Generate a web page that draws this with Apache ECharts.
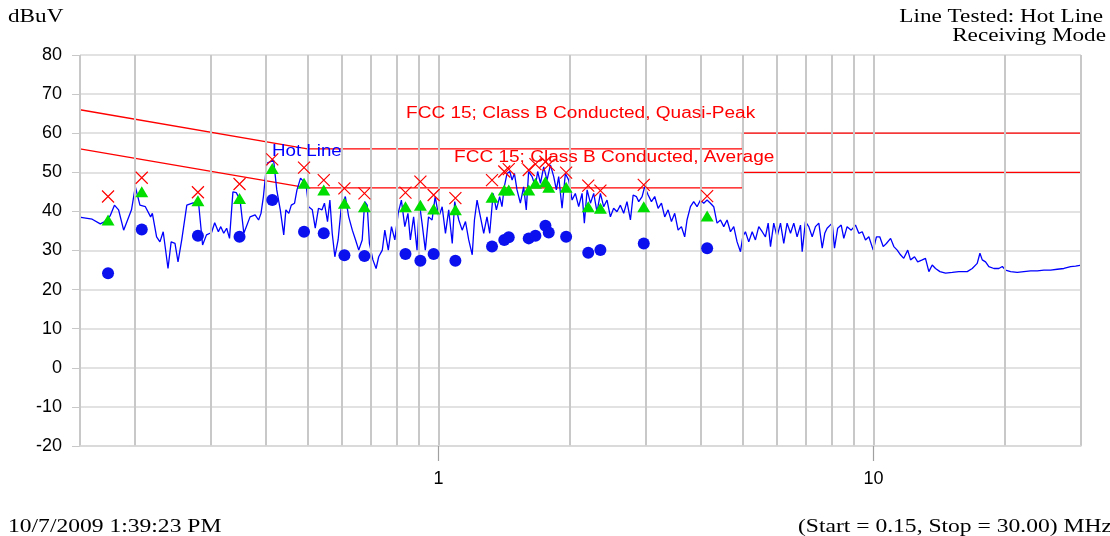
<!DOCTYPE html>
<html>
<head>
<meta charset="utf-8">
<script src="https://cdn.jsdelivr.net/npm/echarts@6/dist/echarts.min.js"></script>
<style>
  body { margin: 0; background: #fff; }
  #main { width: 1110px; height: 536px; }
</style>
</head>
<body>
<div id="main"></div>
<script>
// frequency grid (MHz) for vertical lines
const gridFreqs = [0.15, 0.2, 0.3, 0.4, 0.5, 0.6, 0.7, 0.8, 0.9, 1, 2, 3, 4, 5, 6, 7, 8, 9, 10, 20, 30]
const xLabelValues = [1, 10]

// FCC 15 class B limits
const qpLimitMHz = [0.15, 0.5, 5, 5, 30]
const qpLimit = [66, 56, 56, 60, 60]
const avgLimitMHz = [0.15, 0.5, 5, 5, 30]
const avgLimit = [56, 46, 46, 50, 50]

// measured points
const markFreq = [0.174, 0.208, 0.280, 0.349, 0.415, 0.491, 0.545, 0.608, 0.676, 0.840, 0.909, 0.975, 1.094,
  1.328, 1.417, 1.451, 1.613, 1.671, 1.762, 1.793, 1.966, 2.21, 2.357, 2.965, 4.147]
const qpValues = [43.8, 48.6, 44.9, 47.0, 53.3, 51.2, 48.0, 45.9, 44.6, 44.8, 47.6, 44.2, 43.4,
  48.0, 50.2, 50.8, 50.6, 52.1, 52.7, 51.9, 49.9, 46.6, 45.3, 46.8, 43.9]
const avgValues = [37.8, 45.0, 42.7, 43.3, 51.0, 47.2, 45.5, 42.1, 41.2, 41.2, 41.6, 40.6, 40.4,
  43.6, 45.5, 45.5, 45.5, 47.2, 47.6, 46.2, 46.2, 41.2, 40.8, 41.2, 38.8]
const dotValues = [24.2, 35.4, 33.8, 33.5, 42.9, 34.8, 34.4, 28.8, 28.6, 29.1, 27.4, 29.1, 27.4,
  31.0, 32.7, 33.4, 33.1, 33.8, 36.3, 34.6, 33.5, 29.4, 30.1, 31.8, 30.6]

// peak scan trace
const traceMHz = [0.150, 0.152, 0.160, 0.167, 0.171, 0.176, 0.180, 0.184, 0.189, 0.197, 0.201, 0.206, 0.212,
  0.218, 0.220, 0.225, 0.229, 0.233, 0.239, 0.243, 0.248, 0.252, 0.257, 0.264, 0.273, 0.281, 0.287, 0.293,
  0.301, 0.306, 0.312, 0.316, 0.321, 0.326, 0.331, 0.337, 0.343, 0.350, 0.357, 0.369, 0.379, 0.386, 0.391,
  0.396, 0.403, 0.407, 0.418, 0.425, 0.433, 0.441, 0.446, 0.453, 0.459, 0.467, 0.473, 0.482, 0.490, 0.497,
  0.503, 0.513, 0.521, 0.530, 0.540, 0.547, 0.556, 0.563, 0.570, 0.578, 0.588, 0.598, 0.611, 0.622, 0.634,
  0.645, 0.656, 0.668, 0.677, 0.686, 0.694, 0.707, 0.719, 0.729, 0.743, 0.753, 0.767, 0.780, 0.794, 0.808,
  0.822, 0.837, 0.851, 0.862, 0.877, 0.893, 0.904, 0.917, 0.933, 0.949, 0.967, 0.983, 1.002, 1.020, 1.038,
  1.056, 1.076, 1.090, 1.114, 1.134, 1.154, 1.174, 1.196, 1.210, 1.227, 1.249, 1.271, 1.293, 1.312, 1.336,
  1.359, 1.383, 1.400, 1.417, 1.438, 1.459, 1.477, 1.495, 1.516, 1.543, 1.570, 1.592, 1.612, 1.642, 1.670,
  1.691, 1.716, 1.746, 1.777, 1.809, 1.841, 1.867, 1.890, 1.924, 1.958, 1.993, 2.029, 2.064, 2.101, 2.139,
  2.165, 2.197, 2.236, 2.275, 2.315, 2.357, 2.398, 2.441, 2.485, 2.528, 2.573, 2.620, 2.666, 2.713, 2.763,
  2.803, 2.851, 2.887, 2.939, 2.979, 3.035, 3.088, 3.142, 3.199, 3.256, 3.313, 3.373, 3.433, 3.493, 3.556,
  3.619, 3.682, 3.728, 3.796, 3.862, 3.931, 4.003, 4.073, 4.145, 4.220, 4.294, 4.370, 4.450, 4.528, 4.608,
  4.692, 4.774, 4.859, 4.947, 5.007, 5.078, 5.169, 5.263, 5.354, 5.450, 5.550, 5.646, 5.728, 5.799, 5.900,
  6.005, 6.114, 6.221, 6.331, 6.447, 6.560, 6.676, 6.797, 6.858, 6.977, 7.102, 7.231, 7.357, 7.489, 7.625,
  7.729, 7.825, 8.040, 8.137, 8.276, 8.432, 8.548, 8.699, 8.891, 9.093, 9.256, 9.424, 9.588, 9.759, 9.989,
  10.16, 10.34, 10.53, 10.71, 10.95, 11.14, 11.34, 11.54, 11.74, 11.99, 12.17, 12.43, 12.64, 12.95, 13.17,
  13.41, 13.65, 13.89, 14.22, 14.65, 15.18, 15.72, 16.43, 16.87, 17.32, 17.57, 17.79, 18.10, 18.42, 18.92,
  19.42, 19.78, 20.12, 20.67, 21.41, 22.17, 22.98, 23.81, 24.65, 25.54, 26.46, 27.40, 28.40, 29.15, 29.83, 30.0]
const traceDbuv = [38.5, 38.4, 38.0, 36.8, 37.4, 38.9, 41.6, 40.4, 35.2, 40.4, 46.3, 41.6, 41.2,
  38.6, 39.5, 33.5, 32.2, 34.8, 25.4, 32.2, 31.8, 27.1, 32.7, 41.6, 42.2, 42.1, 31.4, 34.0,
  34.6, 37.1, 34.8, 36.1, 34.4, 35.7, 33.1, 45.0, 44.8, 42.9, 34.4, 38.6, 39.1, 37.8, 39.5,
  43.8, 52.3, 52.7, 53.1, 45.5, 40.4, 34.0, 40.4, 39.5, 41.6, 42.1, 45.5, 48.5, 47.6, 46.3,
  41.2, 40.4, 35.7, 40.8, 40.4, 42.1, 37.4, 42.9, 34.4, 28.4, 32.7, 41.2, 43.8, 38.6, 35.2,
  32.7, 30.1, 32.7, 42.5, 41.6, 31.8, 27.6, 25.4, 28.4, 30.1, 35.2, 30.1, 36.1, 32.7, 39.5,
  42.9, 36.1, 39.5, 32.7, 38.6, 30.1, 42.1, 37.0, 30.1, 38.6, 37.8, 43.8, 38.6, 41.2, 34.4,
  40.4, 31.8, 42.5, 37.8, 35.2, 37.4, 32.7, 28.9, 37.8, 42.9, 38.6, 34.4, 38.6, 34.4, 44.6,
  40.4, 43.8, 41.2, 46.3, 49.7, 50.2, 48.0, 49.7, 45.5, 42.1, 46.3, 40.4, 50.2, 48.9, 46.3,
  50.2, 47.2, 51.4, 48.0, 51.9, 48.9, 45.5, 48.9, 40.8, 49.7, 48.0, 42.9, 44.6, 41.2, 44.6,
  37.0, 45.5, 42.1, 44.6, 39.9, 44.6, 41.2, 42.9, 38.6, 40.8, 39.9, 41.6, 39.5, 42.5, 37.8,
  44.2, 43.8, 42.5, 43.8, 46.3, 44.2, 42.5, 43.8, 40.8, 42.1, 38.6, 40.4, 37.4, 39.5, 35.2,
  36.1, 33.5, 37.8, 41.2, 42.5, 41.2, 42.9, 42.1, 42.9, 42.1, 41.2, 37.0, 37.8, 36.1, 37.8,
  34.8, 36.1, 32.2, 29.7, 33.5, 34.8, 32.2, 34.8, 32.7, 36.1, 34.8, 33.5, 37.0, 31.0, 37.0,
  33.5, 37.0, 31.8, 37.0, 34.4, 37.0, 33.5, 36.5, 29.7, 37.4, 36.1, 33.5, 36.1, 37.0, 30.6,
  34.4, 35.7, 37.0, 30.6, 35.7, 36.5, 33.1, 36.1, 35.2, 36.5, 34.4, 34.8, 32.7, 33.5, 30.1,
  33.5, 33.5, 31.0, 31.8, 33.1, 31.0, 30.1, 28.9, 28.0, 30.1, 27.6, 28.4, 27.1, 27.6, 28.0,
  24.6, 26.3, 25.4, 24.6, 24.2, 24.4, 24.6, 24.6, 25.4, 26.7, 29.3, 27.6, 27.1, 25.9, 25.4,
  25.4, 25.9, 25.0, 24.6, 24.4, 24.6, 24.8, 24.8, 25.0, 25.0, 25.2, 25.4, 25.9, 26.0, 26.2, 26.2]

const zip = (xs, ys) => xs.map((x, i) => [x, ys[i]])

const serif = '19px "Liberation Serif", "Times New Roman", serif'
const sans = '16px "Liberation Sans", Arial, sans-serif'

const chart = echarts.init(document.getElementById('main'))
chart.setOption({
  animation: false,
  grid: { left: 80, right: 29, top: 55, bottom: 90 },
  xAxis: {
    type: 'log',
    logBase: 10,
    min: 0.15,
    max: 30,
    z: 8,
    axisLine: { show: true, onZero: false, lineStyle: { color: '#d8d8d8', width: 1.5 } },
    splitLine: { show: false },
    axisTick: {
      show: true,
      inside: false,
      customValues: xLabelValues,
      length: 15,
      lineStyle: { color: '#a0a0a0', width: 1.2 },
    },
    axisLabel: {
      customValues: xLabelValues,
      margin: 24,
      color: '#000',
      fontSize: 18,
      fontFamily: 'Liberation Sans, Arial, sans-serif',
    },
  },
  yAxis: {
    type: 'value',
    min: -20,
    max: 80,
    interval: 10,
    axisLine: { show: false },
    axisTick: { show: true, length: 8, lineStyle: { color: '#c8c8c8' } },
    splitLine: { lineStyle: { color: '#d8d8d8', width: 1.5 } },
    axisLabel: { color: '#000', fontSize: 18, margin: 18, fontFamily: 'Liberation Sans, Arial, sans-serif' },
  },
  graphic: [
    { type: 'text', x: 8, y: 27, scaleX: 1.22, style: { text: 'dBuV', font: serif, fill: '#000', textVerticalAlign: 'bottom' } },
    { type: 'text', x: 1103, y: 27, scaleX: 1.22, style: { text: 'Line Tested: Hot Line', font: serif, fill: '#000', textAlign: 'right', textVerticalAlign: 'bottom' } },
    { type: 'text', x: 1106, y: 46, scaleX: 1.22, style: { text: 'Receiving Mode', font: serif, fill: '#000', textAlign: 'right', textVerticalAlign: 'bottom' } },
    { type: 'text', x: 8, y: 537, scaleX: 1.24, style: { text: '10/7/2009 1:39:23 PM', font: serif, fill: '#000', textVerticalAlign: 'bottom' } },
    { type: 'text', x: 798, y: 537, scaleX: 1.24, style: { text: '(Start = 0.15, Stop = 30.00) MHz', font: serif, fill: '#000', textVerticalAlign: 'bottom' } },
    { type: 'text', x: 406, y: 114, scaleX: 1.19, z: 10, style: { text: 'FCC 15; Class B Conducted, Quasi-Peak', font: sans, fill: '#ff0000', textVerticalAlign: 'middle' } },
    { type: 'text', x: 454, y: 158, scaleX: 1.19, z: 10, style: { text: 'FCC 15; Class B Conducted, Average', font: sans, fill: '#ff0000', textVerticalAlign: 'middle' } },
    { type: 'text', x: 272, y: 152, scaleX: 1.17, z: 10, style: { text: 'Hot Line', font: sans, fill: '#0000ff', textVerticalAlign: 'middle' } },
  ],
  series: [
    {
      name: 'grid',
      type: 'line',
      data: [],
      z: 1,
      markLine: {
        silent: true,
        symbol: ['none', 'none'],
        label: { show: false },
        lineStyle: { type: 'solid', color: '#c8c8c8', width: 2 },
        data: gridFreqs.map((f) => ({ xAxis: f })),
      },
    },
    {
      name: 'QP limit',
      type: 'line',
      z: 3,
      symbol: 'none',
      lineStyle: { color: '#ff0000', width: 1.3 },
      data: zip(qpLimitMHz, qpLimit),
    },
    {
      name: 'AV limit',
      type: 'line',
      z: 3,
      symbol: 'none',
      lineStyle: { color: '#ff0000', width: 1.3 },
      data: zip(avgLimitMHz, avgLimit),
    },
    {
      name: 'Hot Line',
      type: 'line',
      z: 4,
      symbol: 'none',
      lineStyle: { color: '#0000ff', width: 1.3 },
      data: zip(traceMHz, traceDbuv),
    },
    {
      name: 'Average',
      type: 'scatter',
      z: 5,
      symbol: 'circle',
      symbolSize: 12,
      itemStyle: { color: '#0a10ee', opacity: 1 },
      data: zip(markFreq, dotValues),
    },
    {
      name: 'QP',
      type: 'scatter',
      z: 6,
      symbol: 'path://M0,0L10,10M10,0L0,10',
      symbolSize: 12,
      itemStyle: { color: 'none', borderColor: '#ff0000', borderWidth: 1.2, opacity: 1 },
      data: zip(markFreq, qpValues),
    },
    {
      name: 'AV',
      type: 'scatter',
      z: 7,
      symbol: 'triangle',
      symbolSize: [13, 11],
      itemStyle: { color: '#00dd00', opacity: 1 },
      data: zip(markFreq, avgValues),
    },
  ],
})
</script>
</body>
</html>
